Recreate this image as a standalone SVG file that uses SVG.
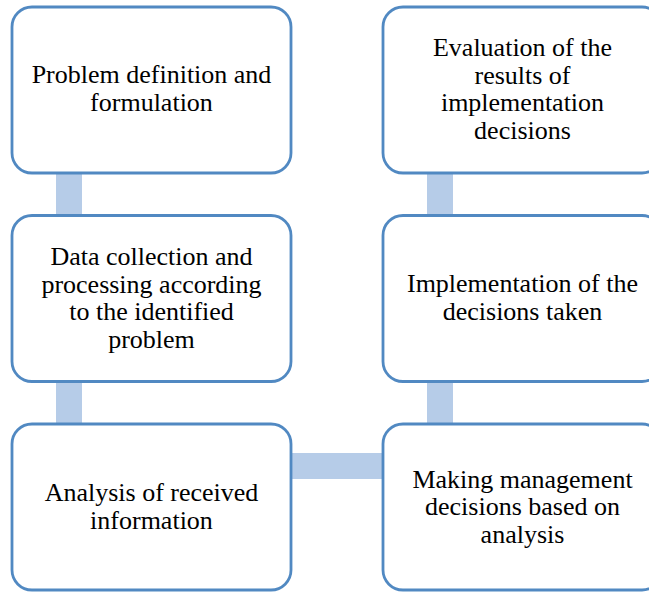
<svg xmlns="http://www.w3.org/2000/svg" width="649" height="592" viewBox="0 0 649 592">
<style>
.box{fill:#fff;stroke:#5189C2;stroke-width:2.8}
.bar{fill:#B6CCE8}
</style>
<rect width="649" height="592" fill="#fff"/>
<g id="connectors">
<rect class="bar" x="56" y="170" width="26" height="50"/>
<rect class="bar" x="56" y="378" width="26" height="50"/>
<rect class="bar" x="288" y="453" width="98" height="26"/>
<rect class="bar" x="427" y="378" width="26" height="50"/>
<rect class="bar" x="427" y="170" width="26" height="50"/>
</g>
<g id="n1">
<rect class="box" x="12" y="7" width="279" height="166" rx="20"/>
<text style="font-family:'Liberation Serif';font-size:26px;text-anchor:middle" x="151.5" y="83">Problem definition and</text>
<text style="font-family:'Liberation Serif';font-size:26px;text-anchor:middle" x="151.5" y="111">formulation</text>
</g>
<g id="n2">
<rect class="box" x="12" y="215.5" width="279" height="166" rx="20"/>
<text style="font-family:'Liberation Serif';font-size:26px;text-anchor:middle" x="151.5" y="265">Data collection and</text>
<text style="font-family:'Liberation Serif';font-size:26px;text-anchor:middle" x="151.5" y="293">processing according</text>
<text style="font-family:'Liberation Serif';font-size:26px;text-anchor:middle" x="151.5" y="320">to the identified</text>
<text style="font-family:'Liberation Serif';font-size:26px;text-anchor:middle" x="151.5" y="348">problem</text>
</g>
<g id="n3">
<rect class="box" x="12" y="424" width="279" height="166" rx="20"/>
<text style="font-family:'Liberation Serif';font-size:26px;text-anchor:middle" x="151.5" y="501">Analysis of received</text>
<text style="font-family:'Liberation Serif';font-size:26px;text-anchor:middle" x="151.5" y="529">information</text>
</g>
<g id="n4">
<rect class="box" x="383" y="424" width="279" height="166" rx="20"/>
<text style="font-family:'Liberation Serif';font-size:26px;text-anchor:middle" x="522.5" y="488">Making management</text>
<text style="font-family:'Liberation Serif';font-size:26px;text-anchor:middle" x="522.5" y="515">decisions based on</text>
<text style="font-family:'Liberation Serif';font-size:26px;text-anchor:middle" x="522.5" y="543">analysis</text>
</g>
<g id="n5">
<rect class="box" x="383" y="215.5" width="279" height="166" rx="20"/>
<text style="font-family:'Liberation Serif';font-size:26px;text-anchor:middle" x="522.5" y="292">Implementation of the</text>
<text style="font-family:'Liberation Serif';font-size:26px;text-anchor:middle" x="522.5" y="320">decisions taken</text>
</g>
<g id="n6">
<rect class="box" x="383" y="7" width="279" height="166" rx="20"/>
<text style="font-family:'Liberation Serif';font-size:26px;text-anchor:middle" x="522.5" y="56">Evaluation of the</text>
<text style="font-family:'Liberation Serif';font-size:26px;text-anchor:middle" x="522.5" y="84">results of</text>
<text style="font-family:'Liberation Serif';font-size:26px;text-anchor:middle" x="522.5" y="111">implementation</text>
<text style="font-family:'Liberation Serif';font-size:26px;text-anchor:middle" x="522.5" y="139">decisions</text>
</g>
</svg>
